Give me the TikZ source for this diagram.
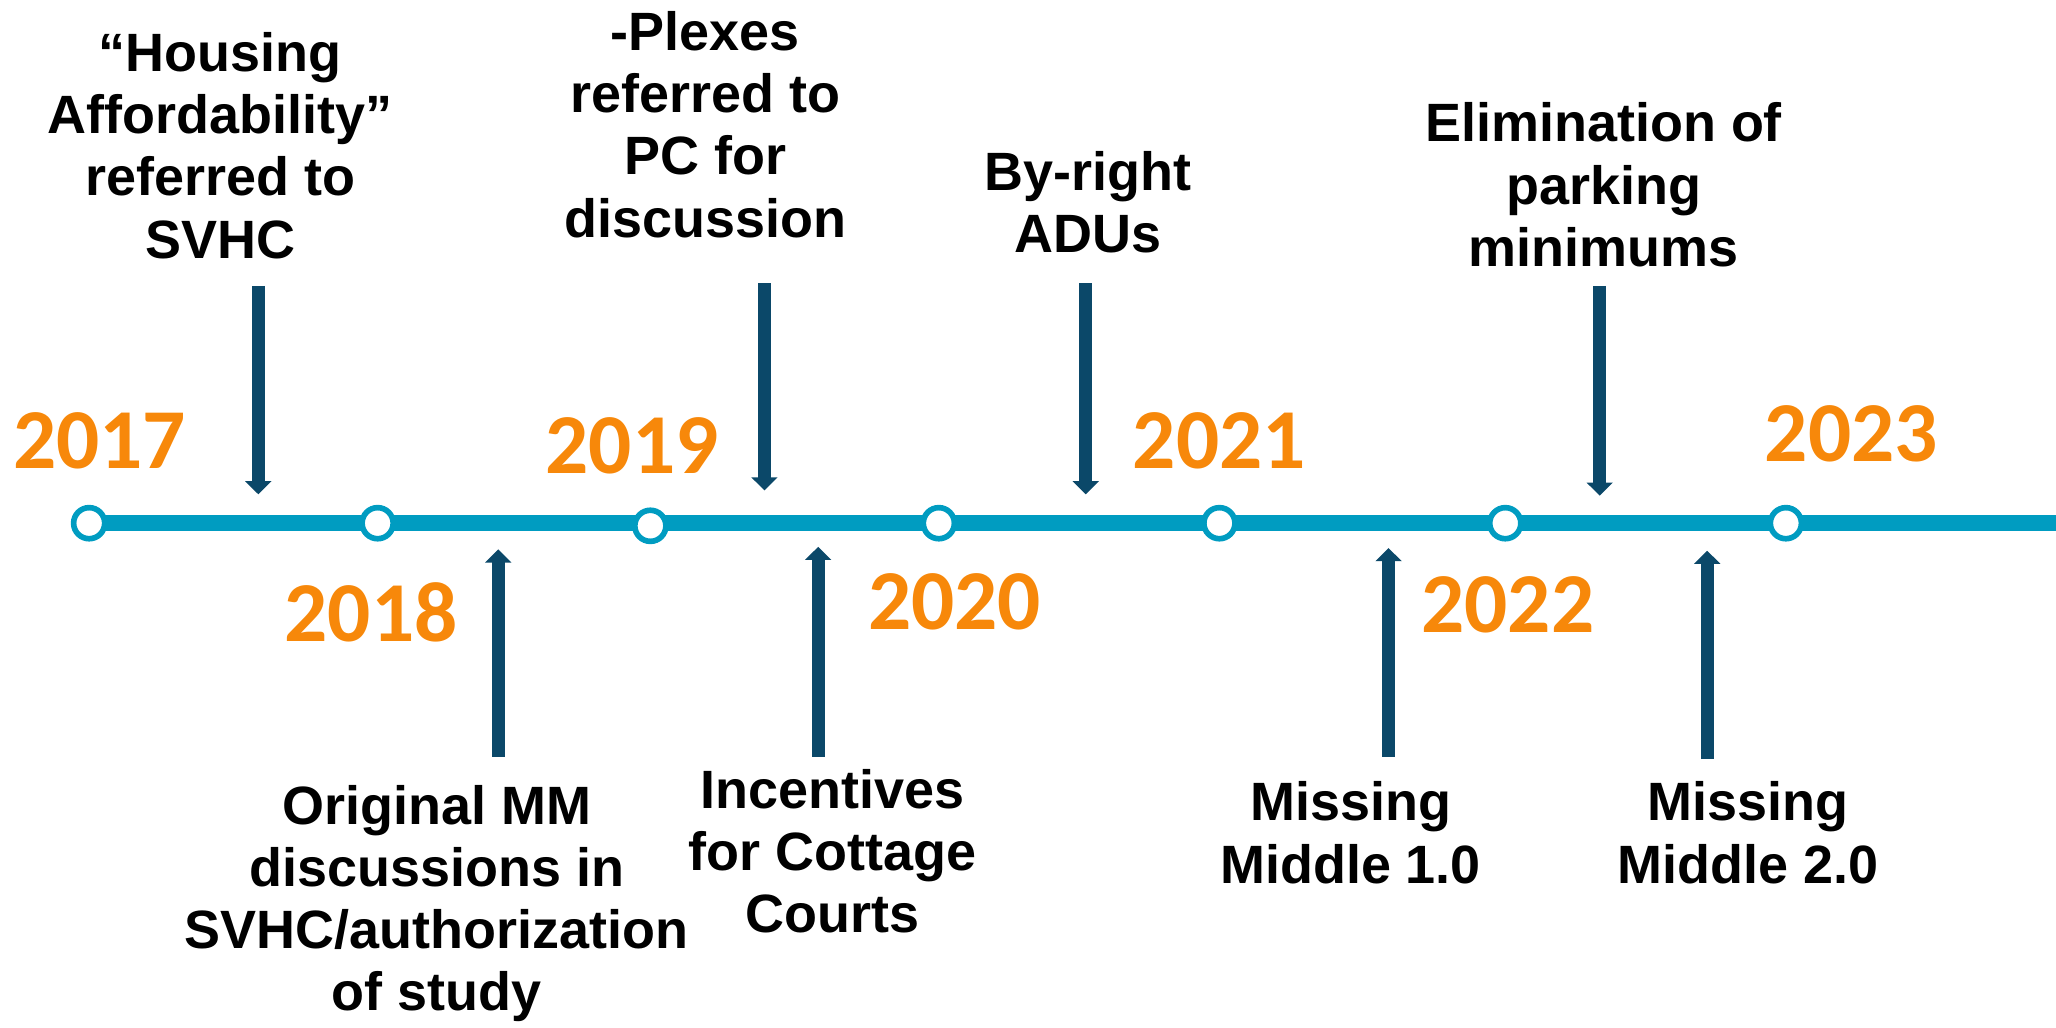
\documentclass[tikz,border=0pt]{standalone}
\usepackage{fontspec}
\setmainfont{Liberation Sans}
\newfontfamily\yearfont{Carlito}
\usetikzlibrary{arrows.meta}

\definecolor{lineblue}{HTML}{009CC1}
\definecolor{yearorange}{HTML}{F7880A}
\definecolor{arrownavy}{HTML}{0B4869}

\tikzset{
  year/.style={text=yearorange, font=\yearfont\bfseries\fontsize{18.5}{20}\selectfont},
  event/.style={align=center, font=\bfseries\fontsize{11.7}{13.5}\selectfont},
  milestone/.style={circle, draw=lineblue, line width=0.043cm, fill=white, minimum size=0.237cm, inner sep=0pt},
  pointer/.style={draw=arrownavy, line width=0.10cm, -{Triangle[width=0.195cm,length=0.10cm]}}
}

\begin{document}
\begin{tikzpicture}[x=0.01cm, y=-0.01cm]
    \useasboundingbox (0,0) rectangle (1568,784);

    % the time line and its yearly stops
    \coordinate (start) at (68,399);
    \coordinate (end) at (1568,399);
    \draw[lineblue, line width=0.12cm] (start) -- (end);
    \node[milestone] (m2017) at (68,399) {};
    \node[milestone] (m2018) at (288,399) {};
    \node[milestone] (m2019) at (496,401) {};
    \node[milestone] (m2020) at (716,399) {};
    \node[milestone] (m2021) at (930,399) {};
    \node[milestone] (m2022) at (1148,399) {};
    \node[milestone] (m2023) at (1362,399) {};

    \node[year] (y2017) at (76,336) {2017};
    \node[year] (y2018) at (283,467) {2018};
    \node[year] (y2019) at (482,340) {2019};
    \node[year] (y2020) at (728,459) {2020};
    \node[year] (y2021) at (930,336) {2021};
    \node[year] (y2022) at (1150,461) {2022};
    \node[year] (y2023) at (1412,331) {2023};

    % events above the line
    \node[event] (afford) at (168,111) {“Housing\\Affordability”\\referred to\\SVHC};
    \coordinate (afford-tip) at (197,377);
    \draw[pointer] (197,218) -- (afford-tip);

    \node[event] (plexes) at (538,95) {-Plexes\\referred to\\PC for\\discussion};
    \coordinate (plexes-tip) at (583,374);
    \draw[pointer] (583,216) -- (plexes-tip);

    \node[event] (adus) at (830,154) {By-right\\ADUs};
    \coordinate (adus-tip) at (828,377);
    \draw[pointer] (828,216) -- (adus-tip);

    \node[event] (parking) at (1223,141) {Elimination of\\parking\\minimums};
    \coordinate (parking-tip) at (1220,378);
    \draw[pointer] (1220,218) -- (parking-tip);

    % events below the line
    \node[event] (original) at (333,689) {Original MM\\discussions in\\SVHC/authorization\\of study};
    \coordinate (original-tip) at (380,419);
    \draw[pointer] (380,577) -- (original-tip);

    \node[event] (cottage) at (635,649) {Incentives\\for Cottage\\Courts};
    \coordinate (cottage-tip) at (624,417);
    \draw[pointer] (624,577) -- (cottage-tip);

    \node[event] (mm1) at (1030,635) {Missing\\Middle 1.0};
    \coordinate (mm1-tip) at (1059,418);
    \draw[pointer] (1059,577) -- (mm1-tip);

    \node[event] (mm2) at (1333,635) {Missing\\Middle 2.0};
    \coordinate (mm2-tip) at (1302,420);
    \draw[pointer] (1302,579) -- (mm2-tip);

\end{tikzpicture}
\end{document}
